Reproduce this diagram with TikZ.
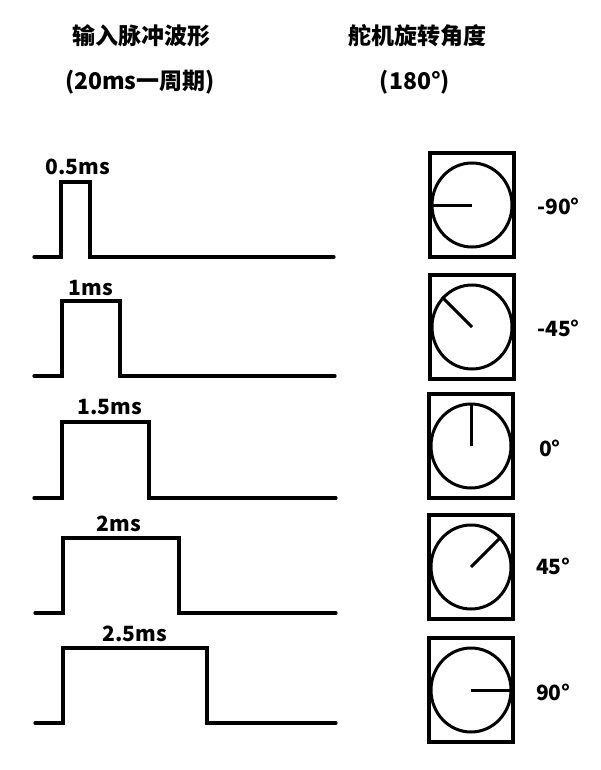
\documentclass[tikz,border=0pt]{standalone}
\usepackage{fontspec}
\setmainfont{Noto Sans CJK SC}
\usetikzlibrary{shapes.geometric}
\tikzset{
  wave/.style={line width=3.3pt, line cap=round, line join=miter},
  dial/.style={draw, line width=3.3pt, rectangle, minimum width=84pt, minimum height=104pt, inner sep=0pt},
  face/.style={draw, line width=3pt, ellipse, minimum width=80pt, minimum height=84pt, inner sep=0pt},
  needle/.style={line width=3pt},
  lbl/.style={font=\bfseries\fontsize{21}{24}\selectfont, inner sep=0pt},
  ttl/.style={font=\bfseries\fontsize{23}{26}\selectfont, inner sep=0pt},
  ang/.style={font=\bfseries\fontsize{21}{24}\selectfont, inner sep=0pt, anchor=west}
}
\begin{document}
\begin{tikzpicture}[x=1pt,y=-1pt]
\useasboundingbox (0,0) rectangle (600,770);
% titles
\node[ttl] (t1) at (141,36) {输入脉冲波形};
\node[ttl] (t2) at (140,82) {(20ms一周期)};
\node[ttl] (t3) at (417,36) {舵机旋转角度};
\node[ttl] (t4) at (415,82) {(180°)};
% waveforms
\draw[wave] (34,257) -- (61,257) -- (61,182) -- (90,182) -- (90,257) -- (334,257);
\node[lbl] (l1) at (78,167) {0.5ms};
\draw[wave] (34,376) -- (62,376) -- (62,301) -- (120,301) -- (120,376) -- (335,376);
\node[lbl] (l2) at (91,288) {1ms};
\draw[wave] (34,498) -- (62,498) -- (62,422) -- (149,422) -- (149,498) -- (336,498);
\node[lbl] (l3) at (110,407) {1.5ms};
\draw[wave] (35,613) -- (63,613) -- (63,538) -- (179,538) -- (179,613) -- (336,613);
\node[lbl] (l4) at (119,524) {2ms};
\draw[wave] (35,723) -- (63,723) -- (63,648) -- (207,648) -- (207,723) -- (336,723);
\node[lbl] (l5) at (135,634) {2.5ms};
% dials
\node[dial] (b1) at (472,205) {};
\node[face] (c1) at (472,205) {};
\draw[needle] (c1.center) -- (c1.180);
\node[ang] (a1) at (537,206) {-90°};

\node[dial] (b2) at (472,327) {};
\node[face] (c2) at (472,327) {};
\draw[needle] (c2.center) -- (c2.135);
\node[ang] (a2) at (537,328) {-45°};

\node[dial] (b3) at (471,446) {};
\node[face] (c3) at (471,446) {};
\draw[needle] (c3.center) -- (c3.90);
\node[ang] (a3) at (539,448) {0°};

\node[dial] (b4) at (471,567) {};
\node[face] (c4) at (471,567) {};
\draw[needle] (c4.center) -- (c4.45);
\node[ang] (a4) at (536,566) {45°};

\node[dial] (b5) at (471,690) {};
\node[face] (c5) at (471,690) {};
\draw[needle] (c5.center) -- (c5.0);
\node[ang] (a5) at (536,692) {90°};
\end{tikzpicture}
\end{document}
